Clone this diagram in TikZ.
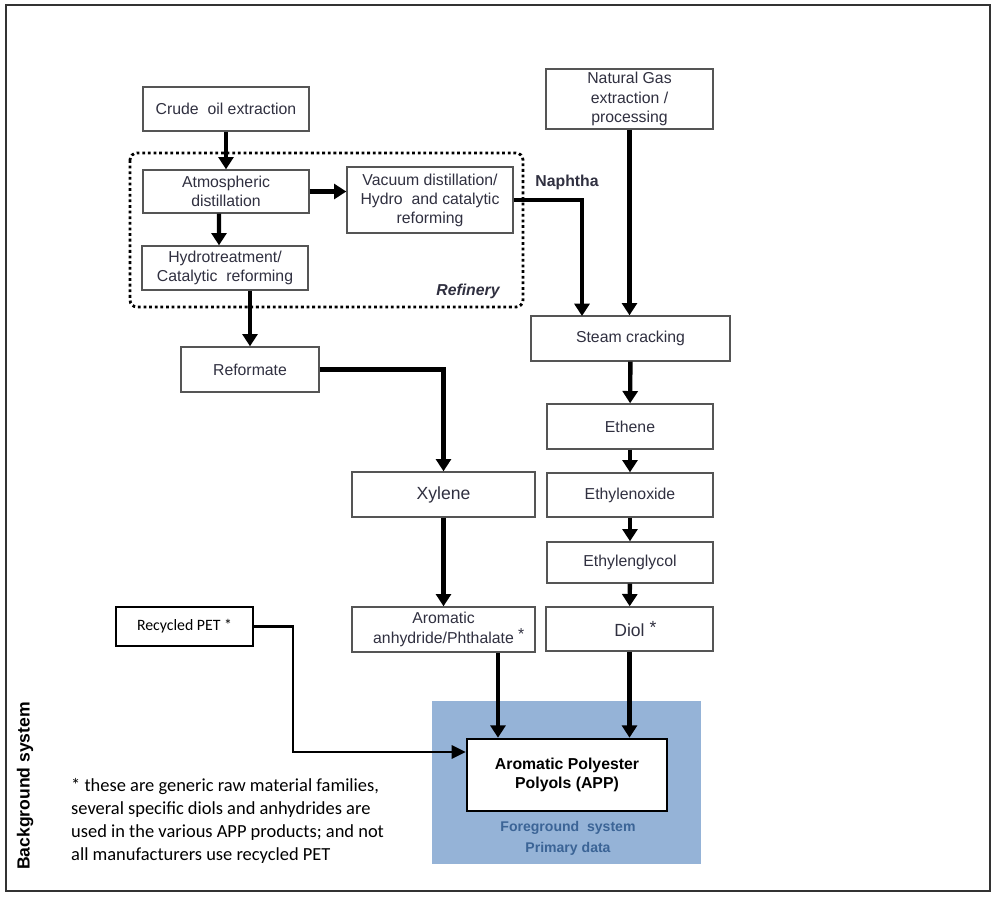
\documentclass[tikz,border=0pt]{standalone}
\usepackage{fontspec}
\setmainfont{Liberation Sans}
\newfontfamily\calibri{Carlito}
\usetikzlibrary{arrows.meta}
\definecolor{fgblue}{HTML}{95B3D7}
\definecolor{fgtext}{HTML}{3B6496}
\definecolor{boxline}{HTML}{555555}
\definecolor{boxtext}{HTML}{303040}

\begin{document}
\begin{tikzpicture}[x=0.02cm,y=-0.02cm]
  \tikzset{
    box/.style={draw=boxline,line width=0.8pt,fill=white,align=center,inner sep=1pt,
      text=boxtext,font=\fontsize{9}{11}\selectfont},
    flow/.style={line width=2.5pt,-{Triangle[length=7pt,width=8.5pt]}},
    thinflow/.style={line width=1.5pt,-{Triangle[length=8pt,width=7.5pt]}},
    label/.style={font=\bfseries\fontsize{9}{11}\selectfont,text=boxtext}
  }
  \useasboundingbox (0,0) rectangle (997,897);
  \draw[line width=1pt,black!80] (6,5) rectangle (990,891);

  % foreground
  \fill[fgblue] (432,701) rectangle (701,864);
  \node[font=\bfseries\fontsize{8}{12}\selectfont,text=fgtext,align=center] (fg) at (568,838) {Foreground\ \ system\\Primary data};

  % refinery
  \draw[line width=1.6pt,dash pattern=on 1.6pt off 1.6pt,rounded corners=4pt] (130,153) rectangle (523,307);
  \node[font=\bfseries\itshape\fontsize{9}{11}\selectfont,text=boxtext] (refinery) at (468,291) {Refinery};

  \node[box,minimum width=3.32cm,minimum height=0.88cm] (crude) at (226,109) {Crude\ \ oil extraction};
  \node[box,minimum width=3.32cm,minimum height=0.86cm] (atm) at (226,191.5) {Atmospheric\\distillation};
  \node[box,minimum width=3.32cm,minimum height=1.32cm,font=\fontsize{9}{10.8}\selectfont] (vac) at (430,200) {Vacuum distillation/\\Hydro\ \ and catalytic\\reforming};
  \node[box,minimum width=3.32cm,minimum height=0.88cm] (hydro) at (225,268) {Hydrotreatment/\\Catalytic\ \ reforming};
  \node[box,minimum width=3.34cm,minimum height=1.2cm] (ngas) at (629.5,99) {Natural\ Gas\\extraction /\\processing};
  \node[box,minimum width=3.98cm,minimum height=0.9cm] (steam) at (630.5,338.5) {Steam cracking};
  \node[box,minimum width=2.76cm,minimum height=0.9cm] (reform) at (250,369.5) {Reformate};
  \node[box,minimum width=3.66cm,minimum height=0.9cm,font=\fontsize{10}{12}\selectfont] (xylene) at (443.5,494.5) {Xylene};
  \node[box,minimum width=3.66cm,minimum height=0.9cm] (arom) at (443.5,629.5) {Aromatic\\anhydride/Phthalate\rlap{\ \raisebox{2pt}{*}}};
  \node[box,minimum width=3.32cm,minimum height=0.9cm] (ethene) at (630,426.5) {Ethene};
  \node[box,minimum width=3.32cm,minimum height=0.88cm] (ethox) at (630,495) {Ethylenoxide};
  \node[box,minimum width=3.32cm,minimum height=0.82cm] (ethgly) at (630,562.5) {Ethylenglycol};
  \node[box,minimum width=3.34cm,minimum height=0.88cm,font=\fontsize{10}{12}\selectfont] (diol) at (629.5,629) {Diol\rlap{ \raisebox{2pt}{*}}};
  \node[box,draw=black,text=black,minimum width=2.74cm,minimum height=0.78cm,font=\calibri\fontsize{9}{11}\selectfont] (recpet) at (184.5,626.5) {Recycled PET *};
  \node[box,draw=black,text=black,line width=1.5pt,minimum width=4cm,minimum height=1.44cm,font=\bfseries\fontsize{9}{11}\selectfont] (app) at (567,775) {Aromatic Polyester\\Polyols (APP)};

  \node[label] (naphtha) at (567,182) {Naphtha};
  \node[rotate=90,font=\bfseries\fontsize{10}{12}\selectfont] (bgsys) at (25,786) {Background system};
  \node[anchor=west,align=left,font=\calibri\fontsize{10.5}{13}\selectfont] (note) at (65,821)
    {* these are generic raw material families,\\several specific diols and anhydrides are\\used in the various APP products; and not\\all manufacturers use recycled PET};

  % flows
  \coordinate (naphin) at (582,316);
  \coordinate (petbend) at (293,752);
  \draw[flow] (crude) -- (atm);
  \draw[flow] (atm.east) -- (atm.east -| vac.west);
  \draw[flow] ([xshift=-0.14cm]atm.south) -- ([xshift=-0.12cm]hydro.north);
  \draw[flow] (hydro.south -| reform.north) -- (reform.north);
  \draw[flow] (vac.east) -| (naphin);
  \draw[flow] (ngas.south) -- (ngas.south |- steam.north);
  \draw[flow] (steam) -- (ethene);
  \draw[flow] (ethene) -- (ethox);
  \draw[flow] (ethox) -- (ethgly);
  \draw[flow] (ethgly) -- (diol);
  \draw[flow] (reform.east) -| (xylene.north);
  \draw[flow] (xylene) -- (arom);
  \draw[flow] ([xshift=1.09cm]arom.south) -- ([xshift=1.09cm]arom.south |- app.north);
  \draw[flow] (diol.south) -- (diol.south |- app.north);
  \draw[thinflow] (recpet.east) -| (petbend) -- (petbend -| app.west);
\end{tikzpicture}
\end{document}
